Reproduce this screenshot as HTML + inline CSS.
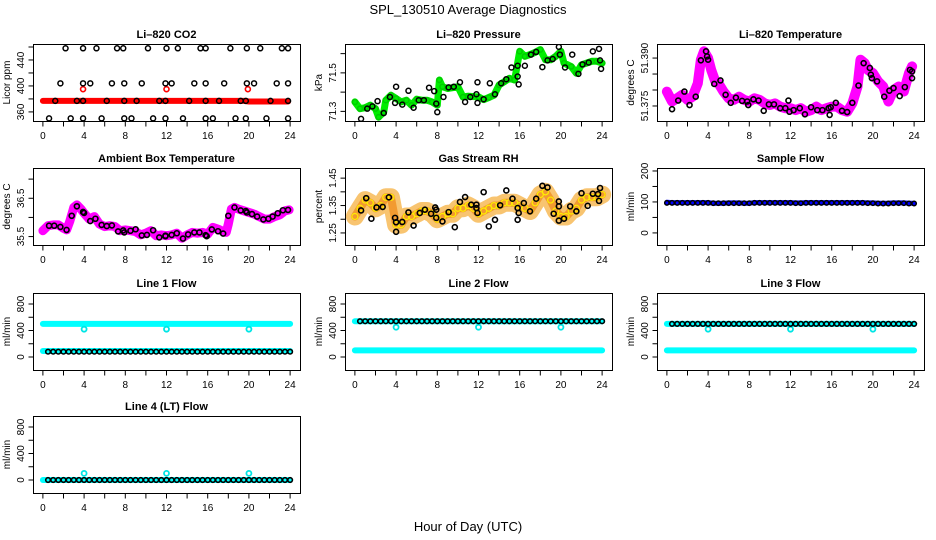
<!DOCTYPE html>
<html><head><meta charset="utf-8"><title>SPL_130510 Average Diagnostics</title>
<style>
html,body{margin:0;padding:0;background:#fff;}
svg{display:block;font-family:"Liberation Sans",sans-serif;}
</style></head>
<body>
<svg id="chart" width="936" height="540" viewBox="0 0 936 540">
<rect x="0" y="0" width="936" height="540" fill="#fff"/>
<text x="468" y="14" text-anchor="middle" font-size="13">SPL_130510  Average Diagnostics</text>
<text x="468" y="531" text-anchor="middle" font-size="13">Hour of Day (UTC)</text>
</svg>
<script>
// ---- shared hours ----
const halfHours = [0,0.5,1,1.5,2,2.5,3,3.5,4,4.5,5,5.5,6,6.5,7,7.5,8,8.5,9,9.5,10,10.5,11,11.5,12,12.5,13,13.5,14,14.5,15,15.5,16,16.5,17,17.5,18,18.5,19,19.5,20,20.5,21,21.5,22,22.5,23,23.5,24];
const xTicks = [0,2,4,6,8,10,12,14,16,18,20,22,24];
const xTickLabels = ["0","","4","","8","","12","","16","","20","","24"];

// ---- CO2 ----
const co2BandHours = [0,1,2,3,4,5,6,7,8,9,10,11,12,13,14,15,16,17,18,19,19.5,20,21,22,23,23.8];
const co2BandVals = [377,377,377,377,377,377,377,377,377,377,377,377,377,377,377,377,377,377,377,377,377,376,376,376,376,376];
const co2RedOutHours = [3.9,12.0,19.9];
const co2RedOutVals = [395,395,395];
const co2BlackHours = [2.2,3.9,5.2,7.2,7.8,10.2,12.0,13.1,15.3,15.8,18.2,19.8,21.1,23.2,23.8, 1.7,3.9,4.6,6.7,7.9,9.6,11.9,12.5,14.7,15.8,17.6,19.8,20.5,22.7,23.8, 1.2,3.3,3.9,6.2,7.9,9.1,11.3,11.9,14.2,15.8,17.1,19.2,19.7,22.1,23.8, 0.6,2.7,3.9,5.7,7.9,8.6,10.7,11.9,13.6,15.8,16.5,18.7,19.7,21.7,23.8];
const co2BlackVals = [458,458,458,458,458,458,458,458,458,458,458,458,458,458,458, 404,404,404,404,404,404,404,404,404,404,404,404,404,404,404, 377,377,377,377,377,377,377,377,377,377,377,377,377,377,377, 350,350,350,350,350,350,350,350,350,350,350,350,350,350,350];

// ---- Pressure ----
const presBandHours = [0,0.5,1,1.5,2,2.3,2.8,3,3.5,4,4.5,5,5.5,6,6.5,7,7.5,8,8.2,8.5,9,9.5,10,10.5,11,12,12.5,13,13.5,14,14.5,15,15.5,16,16.5,17,17.5,18,18.5,19,19.5,20,20.3,21,21.5,22,22.5,23,23.5,24];
const presBandVals = [71.349,71.314,71.319,71.332,71.314,71.270,71.296,71.358,71.384,71.367,71.349,71.358,71.332,71.363,71.358,71.358,71.349,71.332,71.463,71.428,71.419,71.423,71.428,71.375,71.379,71.375,71.361,71.372,71.384,71.437,71.454,71.472,71.463,71.612,71.586,71.595,71.607,71.621,71.568,71.568,71.586,71.612,71.551,71.533,71.498,71.542,71.551,71.560,71.560,71.551];
const presBlackHours = [0.6,1.2,1.7,2.2,2.8,3.4,3.9,4.0,4.6,5.2,5.7,6.2,6.7,7.2,7.7,7.9,8.0,8.6,9.1,9.6,10.2,10.7,11.2,11.8,11.9,11.9,12.5,13.1,13.6,14.2,14.7,15.2,15.8,15.8,15.9,16.5,17.1,17.6,18.2,18.7,19.2,19.8,19.9,20.4,21.1,21.7,22.1,22.7,23.1,23.7,23.8,23.9];
const presBlackVals = [71.261,71.314,71.326,71.353,71.291,71.375,71.344,71.428,71.335,71.407,71.319,71.358,71.358,71.423,71.405,71.340,71.296,71.375,71.425,71.428,71.451,71.349,71.375,71.389,71.451,71.344,71.363,71.446,71.389,71.446,71.467,71.528,71.537,71.481,71.440,71.537,71.595,71.609,71.530,71.565,71.572,71.635,71.595,71.528,71.595,71.495,71.544,71.554,71.612,71.625,71.565,71.521];

// ---- Li-820 temperature ----
const ltBandHours = [0,0.5,1,1.5,2,2.5,3,3.3,3.6,4,4.3,4.7,5,5.5,6,6.5,7,7.5,8,8.5,9,9.5,10,10.5,11,11.5,12,12.5,13,13.5,14,14.5,15,15.5,16,16.5,17,17.5,18,18.5,18.8,19.2,19.5,20,20.5,21,21.5,22,22.5,23,23.5,23.8];
const ltBandVals = [51.3795,51.3764,51.3774,51.3785,51.3769,51.3779,51.3821,51.3895,51.3921,51.3900,51.3863,51.3827,51.3821,51.3795,51.3774,51.3769,51.3779,51.3769,51.3764,51.3774,51.3769,51.3758,51.3753,51.3758,51.3748,51.3743,51.3743,51.3737,51.3743,51.3732,51.3737,51.3748,51.3737,51.3743,51.3748,51.3748,51.3737,51.3732,51.3758,51.3811,51.3895,51.3884,51.3863,51.3853,51.3827,51.3811,51.3764,51.3800,51.3811,51.3795,51.3853,51.3874];
const ltBlackHours = [0.5,1.1,1.7,2.2,2.8,3.3,3.8,3.9,4.0,4.6,5.2,5.7,6.2,6.7,7.3,7.8,7.9,8.4,8.9,9.4,9.9,10.4,11.0,11.5,11.8,11.9,12.3,12.9,13.4,14.0,14.6,15.1,15.7,15.8,15.9,16.4,17.0,17.5,18.0,18.6,19.1,19.7,19.8,19.9,20.4,21.1,21.6,22.0,22.6,23.1,23.6,23.8,23.8];
const ltBlackVals = [51.3740,51.3767,51.3795,51.3753,51.3779,51.3893,51.3921,51.3905,51.3895,51.3819,51.3830,51.3785,51.3760,51.3776,51.3766,51.3764,51.3753,51.3771,51.3767,51.3735,51.3755,51.3755,51.3743,51.3743,51.3767,51.3732,51.3737,51.3743,51.3724,51.3746,51.3737,51.3737,51.3743,51.3722,51.3746,51.3760,51.3735,51.3731,51.3760,51.3814,51.3884,51.3869,51.3848,51.3837,51.3827,51.3779,51.3798,51.3806,51.3781,51.3809,51.3863,51.3837,51.3858];

// ---- Ambient box temperature ----
const abBandHours = [0,0.5,1,1.5,2,2.3,2.6,3,3.3,3.7,4,4.5,5,5.5,6,6.5,7,7.5,8,8.5,9,9.5,10,10.5,11,11.5,12,12.5,13,13.5,14,14.5,15,15.5,16,16.5,17,17.5,17.8,18,18.3,18.6,19,19.5,20,20.5,21,21.5,22,22.5,23,23.5,23.9];
const abBandVals = [35.652,35.783,35.804,35.804,35.717,35.674,35.891,36.261,36.326,36.217,36.109,35.957,36.022,35.826,35.761,35.783,35.761,35.652,35.674,35.652,35.630,35.543,35.587,35.652,35.522,35.543,35.522,35.543,35.587,35.457,35.543,35.609,35.587,35.609,35.565,35.739,35.696,35.630,35.609,35.826,36.217,36.261,36.217,36.174,36.130,36.087,36.022,35.957,35.957,36.022,36.065,36.174,36.196];
const abBlackHours = [0.6,1.1,1.7,2.3,2.8,3.3,3.9,4.0,4.6,5.1,5.7,6.2,6.7,7.3,7.8,7.9,8.5,9.0,9.6,10.1,10.7,11.3,11.9,11.9,12.5,13.0,13.6,14.1,14.7,15.2,15.8,15.9,16.4,17.0,17.5,18.0,18.6,19.2,19.7,19.8,20.3,20.8,21.4,21.9,22.3,22.8,23.3,23.8];
const abBlackVals = [35.783,35.783,35.752,35.674,36.043,36.291,36.143,36.117,35.904,35.965,35.804,35.774,35.791,35.635,35.661,35.609,35.652,35.691,35.530,35.543,35.665,35.478,35.522,35.509,35.543,35.587,35.448,35.557,35.609,35.609,35.535,35.509,35.687,35.639,35.578,36.043,36.261,36.183,36.165,36.130,36.087,36.022,35.948,35.965,36.022,36.109,36.187,36.196];

// ---- Gas stream RH ----
const rhBandVals = [1.31,1.34,1.37,1.36,1.34,1.35,1.38,1.38,1.28,1.28,1.31,1.31,1.32,1.33,1.33,1.32,1.30,1.31,1.32,1.32,1.34,1.34,1.35,1.34,1.32,1.33,1.34,1.35,1.35,1.36,1.36,1.36,1.35,1.34,1.33,1.36,1.39,1.40,1.37,1.33,1.31,1.31,1.33,1.34,1.37,1.38,1.38,1.38,1.39];
const rhBlackHours = [0.6,1.1,1.6,2.1,2.7,3.3,3.9,4.0,4.0,4.6,5.2,5.7,6.3,6.8,7.4,7.8,7.9,7.9,8.5,9.1,9.7,10.2,10.7,11.3,11.8,11.8,11.9,12.5,13.0,13.6,14.1,14.7,15.3,15.8,15.9,15.8,16.4,17.0,17.6,18.2,18.7,19.3,19.8,19.8,19.8,20.3,20.9,21.5,22.0,22.6,23.1,23.6,23.7,23.8];
const rhBlackVals = [1.332,1.377,1.302,1.343,1.345,1.380,1.305,1.289,1.254,1.290,1.325,1.277,1.323,1.335,1.320,1.343,1.335,1.305,1.292,1.326,1.271,1.363,1.381,1.353,1.353,1.341,1.323,1.399,1.274,1.298,1.351,1.405,1.375,1.341,1.323,1.298,1.359,1.329,1.375,1.422,1.416,1.320,1.365,1.347,1.295,1.302,1.347,1.329,1.395,1.349,1.393,1.392,1.367,1.414];

// ---- Sample flow ----
const sfBlueVals = [99,98,98,98,98,98,98,98,98,96,96,96,97,97,97,96,96,98,98,98,98,98,98,98,98,97,97,98,98,98,98,98,98,98,98,98,98,98,98,97,97,96,96,96,97,97,97,96,96];
const sfBlackVals = [97,97,97,97,97,97,97,97,97,96,96,96,96,96,96,96,96,97,97,97,97,97,97,97,97,96,96,97,97,97,97,97,97,97,97,97,97,97,97,96,96,95,95,95,96,96,96,95,95];

// ---- Line flows ----
const l1CyanHigh = [500,500,500,500,500,500,500,500,500,500,500,500,500,500,500,500,500,500,500,500,500,500,500,500,500,500,500,500,500,500,500,500,500,500,500,500,500,500,500,500,500,500,500,500,500,500,500,500,500];
const l1CyanLow = [90,90,90,90,90,90,90,90,90,90,90,90,90,90,90,90,90,90,90,90,90,90,90,90,90,90,90,90,90,90,90,90,90,90,90,90,90,90,90,90,90,90,90,90,90,90,90,90,90];
const l1Black = [80,80,80,80,80,80,80,80,80,80,80,80,80,80,80,80,80,80,80,80,80,80,80,80,80,80,80,80,80,80,80,80,80,80,80,80,80,80,80,80,80,80,80,80,80,80,80,80,80];
const l1DipVals = [420,420,420];
const l2CyanHigh = [540,540,540,540,540,540,540,540,540,540,540,540,540,540,540,540,540,540,540,540,540,540,540,540,540,540,540,540,540,540,540,540,540,540,540,540,540,540,540,540,540,540,540,540,540,540,540,540,540];
const l2CyanLow = [100,100,100,100,100,100,100,100,100,100,100,100,100,100,100,100,100,100,100,100,100,100,100,100,100,100,100,100,100,100,100,100,100,100,100,100,100,100,100,100,100,100,100,100,100,100,100,100,100];
const l2Black = [540,540,540,540,540,540,540,540,540,540,540,540,540,540,540,540,540,540,540,540,540,540,540,540,540,540,540,540,540,540,540,540,540,540,540,540,540,540,540,540,540,540,540,540,540,540,540,540,540];
const l2DipVals = [450,450,450];
const l3CyanHigh = [500,500,500,500,500,500,500,500,500,500,500,500,500,500,500,500,500,500,500,500,500,500,500,500,500,500,500,500,500,500,500,500,500,500,500,500,500,500,500,500,500,500,500,500,500,500,500,500,500];
const l3CyanLow = [100,100,100,100,100,100,100,100,100,100,100,100,100,100,100,100,100,100,100,100,100,100,100,100,100,100,100,100,100,100,100,100,100,100,100,100,100,100,100,100,100,100,100,100,100,100,100,100,100];
const l3Black = [500,500,500,500,500,500,500,500,500,500,500,500,500,500,500,500,500,500,500,500,500,500,500,500,500,500,500,500,500,500,500,500,500,500,500,500,500,500,500,500,500,500,500,500,500,500,500,500,500];
const l3DipVals = [420,420,420];
const l4Cyan = [0,0,0,0,0,0,0,0,0,0,0,0,0,0,0,0,0,0,0,0,0,0,0,0,0,0,0,0,0,0,0,0,0,0,0,0,0,0,0,0,0,0,0,0,0,0,0,0,0];
const l4Black = [0,0,0,0,0,0,0,0,0,0,0,0,0,0,0,0,0,0,0,0,0,0,0,0,0,0,0,0,0,0,0,0,0,0,0,0,0,0,0,0,0,0,0,0,0,0,0,0,0];
const l4DipVals = [100,100,100];
const dipHours = [4,12,20];

const flowTicks = [0,200,400,600,800,1000];
const flowTickLabels = ["0","","400","","800",""];

const NS = "http://www.w3.org/2000/svg";
const svg = document.getElementById('chart');
const colX = [33,345,657];
const rowY = [44,168,293,416];
const BW = 267, BH = 77;

function mk(tag, attrs, parent){
  const e = document.createElementNS(NS, tag);
  for (const k in attrs) e.setAttribute(k, attrs[k]);
  (parent||svg).appendChild(e);
  return e;
}

function panel(name, col, row, ymin, ymax, yTicks, yLabels, title, ylab){
  const g = mk('g', {});
  
  
  const x0 = colX[col], y0 = rowY[row];
  const xs = h => x0 + (h + 0.96) / 25.92 * BW;
  const ys = v => y0 + BH - (v - ymin) / (ymax - ymin) * BH;
  const t = mk('text', {x: x0 + BW/2, y: y0 - 6, 'text-anchor':'middle', 'font-size':11, 'font-weight':'bold'}, g);
  t.textContent = title;
  
  
  const box = mk('rect', {x:x0+0.5, y:y0+0.5, width:BW, height:BH, fill:'none', stroke:'#000', 'stroke-width':1}, g);
  
  
  const xa = mk('g', {}, g);
  
  
  xTicks.forEach((h,i) => {
    const x = xs(h);
    mk('line', {x1:x, x2:x, y1:y0+BH+0.5, y2:y0+BH+5.5, stroke:'#000'}, xa);
    if (xTickLabels[i]) {
      const tl = mk('text', {x:x, y:y0+BH+18, 'text-anchor':'middle', 'font-size':10}, xa);
      tl.textContent = xTickLabels[i];
    }
  });
  const ya = mk('g', {}, g);
  
  
  yTicks.forEach((v,i) => {
    const y = ys(v);
    if (y < y0 - 1 || y > y0 + BH + 1) return;
    mk('line', {x1:x0+0.5, x2:x0-4.5, y1:y, y2:y, stroke:'#000'}, ya);
    if (yLabels[i]) {
      const tl = mk('text', {x:0, y:0, 'text-anchor':'middle', 'font-size':10, transform:`translate(${x0-9},${y}) rotate(-90)`}, ya);
      tl.textContent = yLabels[i];
    }
  });
  const yl = mk('text', {x:0, y:0, 'text-anchor':'middle', 'font-size':10, transform:`translate(${x0-23},${y0+BH/2}) rotate(-90)`}, g);
  yl.textContent = ylab;
  
  
  const clip = 'clip-' + name;
  const cp = mk('clipPath', {id: clip}, g);
  mk('rect', {x:x0, y:y0, width:BW+1, height:BH+1}, cp);
  const plot = mk('g', {'clip-path': `url(#${clip})`}, g);
  return {xs, ys, plot};
}

function band(p, name, hours, vals, color, width, op){
  const pts = hours.map((h,i) => p.xs(h).toFixed(1) + ',' + p.ys(vals[i]).toFixed(1)).join(' ');
  const pl = mk('polyline', {points: pts, fill:'none', stroke: color, 'stroke-width': width, 'stroke-linejoin':'round', 'stroke-linecap':'round', 'stroke-opacity': op||1}, p.plot);
  
  
}
function points(p, name, hours, vals, color, r, sw){
  const g = mk('g', {}, p.plot);
  
  
  hours.forEach((h,i) => {
    const c = mk('circle', {cx:p.xs(h), cy:p.ys(vals[i]), r:r, fill:'none', stroke:color, 'stroke-width':sw}, g);
    
    
  });
}

// Panel 1: CO2
let p = panel('co2', 0, 0, 346, 464.6, [360,380,400,420,440,460], ["360","","400","","440",""], 'Li\u2013820 CO2', 'Licor ppm');
band(p, 'co2-red-band', co2BandHours, co2BandVals, '#ff0000', 6);
points(p, 'co2-red-outliers', co2RedOutHours, co2RedOutVals, '#ff0000', 2.5, 1.6);
points(p, 'co2-black-points', co2BlackHours, co2BlackVals, '#000', 2.5, 1.5);

// Panel 2: Pressure
p = panel('pressure', 1, 0, 71.25, 71.65, [71.3,71.4,71.5,71.6], ["71.3","","71.5",""], 'Li\u2013820 Pressure', 'kPa');
band(p, 'pressure-green-band', presBandHours, presBandVals, '#00ee00', 7);
points(p, 'pressure-green-points', presBandHours, presBandVals, '#00cc00', 2.5, 1.5);
points(p, 'pressure-black-points', presBlackHours, presBlackVals, '#000', 2.5, 1.5);

// Panel 3: Li temp
p = panel('li-temp', 2, 0, 51.3703, 51.3944, [51.375,51.380,51.385,51.390], ["51.375","","","51.390"], 'Li\u2013820 Temperature', 'degrees C');
band(p, 'li-temp-magenta-band', ltBandHours, ltBandVals, '#ff00ff', 10);
points(p, 'li-temp-magenta-points', ltBandHours, ltBandVals, '#ff00ff', 3, 1.5);
points(p, 'li-temp-black-points', ltBlackHours, ltBlackVals, '#000', 2.5, 1.6);

// Panel 4: Ambient
p = panel('ambient-temp', 0, 1, 35.28, 37.29, [35.5,36.0,36.5,37.0], ["35.5","","36.5",""], 'Ambient Box Temperature', 'degrees C');
band(p, 'ambient-magenta-band', abBandHours, abBandVals, '#ff00ff', 9);
points(p, 'ambient-magenta-points', abBandHours, abBandVals, '#ff00ff', 3, 1.5);
points(p, 'ambient-black-points', abBlackHours, abBlackVals, '#000', 2.5, 1.6);

// Panel 5: RH
p = panel('rh', 1, 1, 1.206, 1.487, [1.25,1.30,1.35,1.40,1.45], ["1.25","","1.35","","1.45"], 'Gas Stream RH', 'percent');
band(p, 'rh-orange-band', halfHours, rhBandVals, '#f5b040', 18, 0.75);
band(p, 'rh-orange-core', halfHours, rhBandVals, '#f09020', 8, 0.8);
points(p, 'rh-yellow-points', halfHours, rhBandVals, '#ffee00', 3, 1.2);
points(p, 'rh-black-points', rhBlackHours, rhBlackVals, '#000', 2.5, 1.6);

// Panel 6: Sample flow
p = panel('sample-flow', 2, 1, -39, 209.6, [0,50,100,150,200], ["0","","100","","200"], 'Sample Flow', 'ml/min');
band(p, 'sample-flow-blue-band', halfHours, sfBlueVals, '#0000ff', 5);
points(p, 'sample-flow-black-points', halfHours, sfBlackVals, '#000', 2.2, 1.5);

function flowPanel(name, col, row, title, ylab, hi, lo, blk, dips){
  const q = panel(name, col, row, -196, 966, flowTicks, flowTickLabels, title, ylab);
  if (hi) band(q, name + '-cyan-high', halfHours, hi, '#00ffff', 6);
  band(q, name + '-cyan-low', halfHours, lo, '#00ffff', 6);
  points(q, name + '-cyan-dips', dipHours, dips, '#00e5e5', 2.5, 1.8);
  points(q, name + '-black-points', halfHours.slice(1), blk.slice(1), '#000', 2.3, 1.6);
}
flowPanel('line1-flow', 0, 2, 'Line 1 Flow', 'ml/min', l1CyanHigh, l1CyanLow, l1Black, l1DipVals);
flowPanel('line2-flow', 1, 2, 'Line 2 Flow', 'ml/min', l2CyanHigh, l2CyanLow, l2Black, l2DipVals);
flowPanel('line3-flow', 2, 2, 'Line 3 Flow', 'ml/min', l3CyanHigh, l3CyanLow, l3Black, l3DipVals);
flowPanel('line4-flow', 0, 3, 'Line 4 (LT) Flow', 'ml/min', null, l4Cyan, l4Black, l4DipVals);
</script>
</body></html>
